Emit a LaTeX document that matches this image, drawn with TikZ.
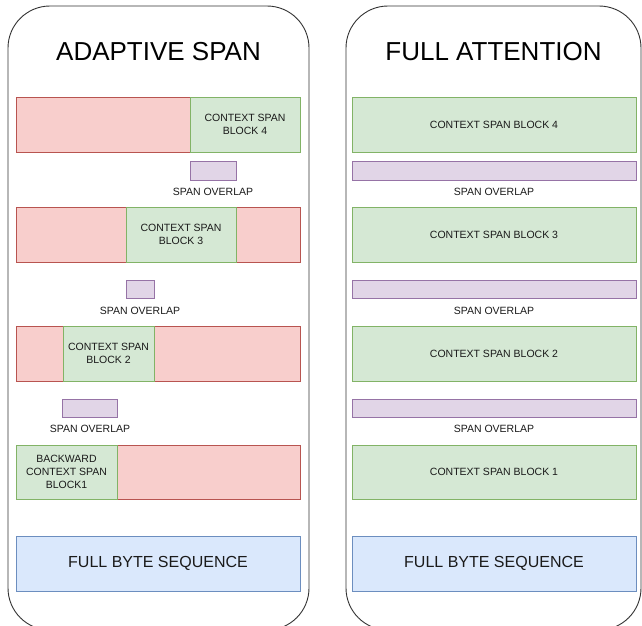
\documentclass[tikz,border=0pt]{standalone}
\usepackage{fontspec}
\setmainfont{Liberation Sans}
\definecolor{redF}{HTML}{F8CECC}
\definecolor{redD}{HTML}{B85450}
\definecolor{grnF}{HTML}{D5E8D4}
\definecolor{grnD}{HTML}{82B366}
\definecolor{purF}{HTML}{E1D5E7}
\definecolor{purD}{HTML}{9673A6}
\definecolor{bluF}{HTML}{DAE8FC}
\definecolor{bluD}{HTML}{6C8EBF}
\definecolor{txt}{HTML}{1A1A1A}
\begin{document}
\begin{tikzpicture}[x=1pt,y=-1pt,
  box/.style={draw, line width=0.8pt, inner sep=0pt, outer sep=0pt, anchor=north west, align=center, text=txt, font=\fontsize{10.5pt}{12.7pt}\selectfont},
  rbox/.style={box, fill=redF, draw=redD},
  gbox/.style={box, fill=grnF, draw=grnD},
  pbox/.style={box, fill=purF, draw=purD},
  bbox/.style={box, fill=bluF, draw=bluD, font=\fontsize{16pt}{19pt}\selectfont},
  lbl/.style={inner sep=0pt, text=txt, font=\fontsize{10.5pt}{12.7pt}\selectfont},
  panel/.style={draw=black!80, line width=0.9pt, rounded corners=42pt, inner sep=0pt, outer sep=0pt, anchor=north west},
  ttl/.style={inner sep=0pt, font=\fontsize{26pt}{30pt}\selectfont}]
\useasboundingbox (0,0) rectangle (642,625);
\clip (0,0) rectangle (642,625);
\fill[white] (0,0) rectangle (642,625);
% panels
\node[panel, minimum width=301pt, minimum height=624pt] (lp) at (8,6) {};
\node[panel, minimum width=295pt, minimum height=624pt] (rp) at (346,6) {};
\node[ttl] (lt) at (158.5,52) {ADAPTIVE SPAN};
\node[ttl] (rt) at (493.5,52) {FULL ATTENTION};
% ---------- left panel ----------
% row 4
\node[rbox, minimum width=174pt, minimum height=55pt] (a4r) at (16,97) {};
\node[gbox, minimum width=110pt, minimum height=55pt] (a4g) at (190,97) {CONTEXT SPAN\\BLOCK 4};
\node[pbox, minimum width=46pt, minimum height=19pt] (ao3) at (190,161) {};
\node[lbl] (ao3l) at (213,192) {SPAN OVERLAP};
% row 3
\node[rbox, minimum width=110pt, minimum height=55pt] (a3r1) at (16,207) {};
\node[rbox, minimum width=64pt, minimum height=55pt] (a3r2) at (236,207) {};
\node[gbox, minimum width=110pt, minimum height=55pt] (a3g) at (126,207) {CONTEXT SPAN\\BLOCK 3};
\node[pbox, minimum width=28pt, minimum height=18pt] (ao2) at (126,280) {};
\node[lbl] (ao2l) at (140,311) {SPAN OVERLAP};
% row 2
\node[rbox, minimum width=47pt, minimum height=55pt] (a2r1) at (16,326) {};
\node[rbox, minimum width=146pt, minimum height=55pt] (a2r2) at (154,326) {};
\node[gbox, minimum width=91pt, minimum height=55pt] (a2g) at (63,326) {CONTEXT SPAN\\BLOCK 2};
\node[pbox, minimum width=55pt, minimum height=18pt] (ao1) at (62,399) {};
\node[lbl] (ao1l) at (90,429) {SPAN OVERLAP};
% row 1
\node[rbox, minimum width=183pt, minimum height=54pt] (a1r) at (117,445) {};
\node[gbox, minimum width=101pt, minimum height=54pt] (a1g) at (16,445) {BACKWARD\\CONTEXT SPAN\\BLOCK1};
% byte
\node[bbox, minimum width=284pt, minimum height=55pt] (ab) at (16,536) {FULL BYTE SEQUENCE};
% ---------- right panel ----------
\node[gbox, minimum width=284pt, minimum height=55pt] (f4) at (352,97) {CONTEXT SPAN BLOCK 4};
\node[pbox, minimum width=284pt, minimum height=19pt] (fo3) at (352,161) {};
\node[lbl] (fo3l) at (494,192) {SPAN OVERLAP};
\node[gbox, minimum width=284pt, minimum height=55pt] (f3) at (352,207) {CONTEXT SPAN BLOCK 3};
\node[pbox, minimum width=284pt, minimum height=18pt] (fo2) at (352,280) {};
\node[lbl] (fo2l) at (494,311) {SPAN OVERLAP};
\node[gbox, minimum width=284pt, minimum height=55pt] (f2) at (352,326) {CONTEXT SPAN BLOCK 2};
\node[pbox, minimum width=284pt, minimum height=18pt] (fo1) at (352,399) {};
\node[lbl] (fo1l) at (494,429) {SPAN OVERLAP};
\node[gbox, minimum width=284pt, minimum height=54pt] (f1) at (352,445) {CONTEXT SPAN BLOCK 1};
\node[bbox, minimum width=284pt, minimum height=55pt] (fb) at (352,536) {FULL BYTE SEQUENCE};
\end{tikzpicture}
\end{document}
